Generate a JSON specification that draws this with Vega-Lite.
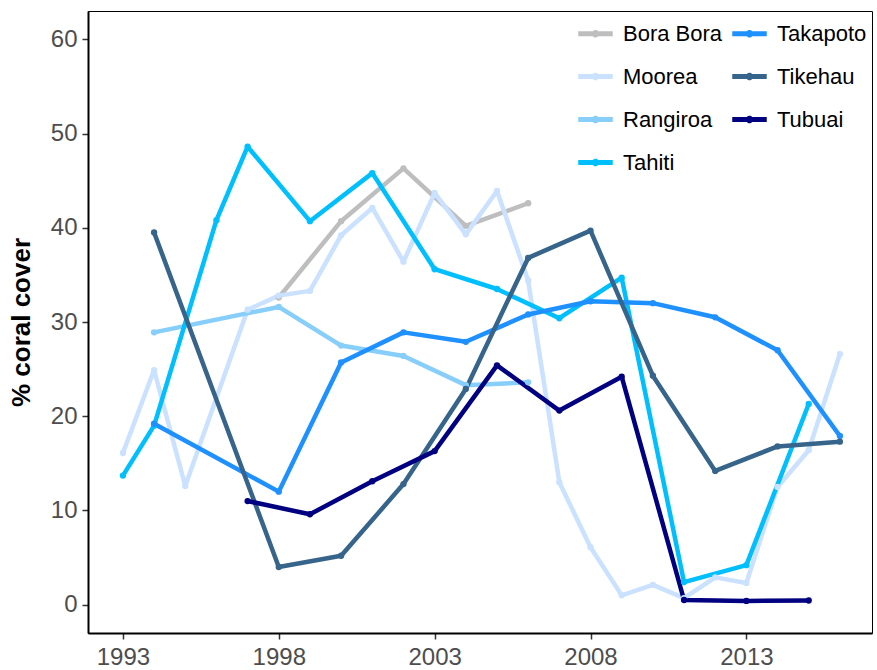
{
  "$schema": "https://vega.github.io/schema/vega-lite/v6.json",
  "width": 784,
  "height": 622,
  "autosize": {"type": "none"},
  "padding": {"left": 88, "top": 11, "right": 5, "bottom": 37},
  "background": "white",
  "config": {
    "font": "Liberation Sans",
    "view": {"stroke": "#000", "strokeWidth": 1},
    "axis": {
      "grid": false,
      "domainColor": "#000",
      "domainWidth": 2,
      "tickColor": "#333",
      "tickWidth": 1.5,
      "tickSize": 6,
      "labelColor": "#4D4D4D",
      "labelFontSize": 24,
      "labelPadding": 5,
      "titleFontSize": 26,
      "titleFontWeight": "bold",
      "titleColor": "#000"
    }
  },
  "data": {
    "values": [
      {"site": "Bora Bora", "year": 1998, "cover": 32.6},
      {"site": "Bora Bora", "year": 2000, "cover": 40.7},
      {"site": "Bora Bora", "year": 2002, "cover": 46.3},
      {"site": "Bora Bora", "year": 2004, "cover": 40.2},
      {"site": "Bora Bora", "year": 2006, "cover": 42.6},
      {"site": "Moorea", "year": 1993, "cover": 16.1},
      {"site": "Moorea", "year": 1994, "cover": 24.9},
      {"site": "Moorea", "year": 1995, "cover": 12.6},
      {"site": "Moorea", "year": 1997, "cover": 31.3},
      {"site": "Moorea", "year": 1998, "cover": 32.8},
      {"site": "Moorea", "year": 1999, "cover": 33.3},
      {"site": "Moorea", "year": 2000, "cover": 39.2},
      {"site": "Moorea", "year": 2001, "cover": 42.1},
      {"site": "Moorea", "year": 2002, "cover": 36.4},
      {"site": "Moorea", "year": 2003, "cover": 43.7},
      {"site": "Moorea", "year": 2004, "cover": 39.3},
      {"site": "Moorea", "year": 2005, "cover": 43.9},
      {"site": "Moorea", "year": 2006, "cover": 34.4},
      {"site": "Moorea", "year": 2007, "cover": 13.0},
      {"site": "Moorea", "year": 2008, "cover": 6.1},
      {"site": "Moorea", "year": 2009, "cover": 1.0},
      {"site": "Moorea", "year": 2010, "cover": 2.1},
      {"site": "Moorea", "year": 2011, "cover": 0.7},
      {"site": "Moorea", "year": 2012, "cover": 2.9},
      {"site": "Moorea", "year": 2013, "cover": 2.3},
      {"site": "Moorea", "year": 2014, "cover": 12.5},
      {"site": "Moorea", "year": 2015, "cover": 16.4},
      {"site": "Moorea", "year": 2016, "cover": 26.6},
      {"site": "Rangiroa", "year": 1994, "cover": 28.9},
      {"site": "Rangiroa", "year": 1998, "cover": 31.6},
      {"site": "Rangiroa", "year": 2000, "cover": 27.5},
      {"site": "Rangiroa", "year": 2002, "cover": 26.4},
      {"site": "Rangiroa", "year": 2004, "cover": 23.3},
      {"site": "Rangiroa", "year": 2006, "cover": 23.6},
      {"site": "Tahiti", "year": 1993, "cover": 13.7},
      {"site": "Tahiti", "year": 1994, "cover": 19.0},
      {"site": "Tahiti", "year": 1996, "cover": 40.8},
      {"site": "Tahiti", "year": 1997, "cover": 48.6},
      {"site": "Tahiti", "year": 1999, "cover": 40.7},
      {"site": "Tahiti", "year": 2001, "cover": 45.8},
      {"site": "Tahiti", "year": 2003, "cover": 35.6},
      {"site": "Tahiti", "year": 2005, "cover": 33.5},
      {"site": "Tahiti", "year": 2007, "cover": 30.4},
      {"site": "Tahiti", "year": 2009, "cover": 34.7},
      {"site": "Tahiti", "year": 2011, "cover": 2.4},
      {"site": "Tahiti", "year": 2013, "cover": 4.2},
      {"site": "Tahiti", "year": 2015, "cover": 21.3},
      {"site": "Takapoto", "year": 1994, "cover": 19.2},
      {"site": "Takapoto", "year": 1998, "cover": 12.0},
      {"site": "Takapoto", "year": 2000, "cover": 25.7},
      {"site": "Takapoto", "year": 2002, "cover": 28.9},
      {"site": "Takapoto", "year": 2004, "cover": 27.9},
      {"site": "Takapoto", "year": 2006, "cover": 30.8},
      {"site": "Takapoto", "year": 2008, "cover": 32.2},
      {"site": "Takapoto", "year": 2010, "cover": 32.0},
      {"site": "Takapoto", "year": 2012, "cover": 30.5},
      {"site": "Takapoto", "year": 2014, "cover": 27.0},
      {"site": "Takapoto", "year": 2016, "cover": 17.9},
      {"site": "Tikehau", "year": 1994, "cover": 39.5},
      {"site": "Tikehau", "year": 1998, "cover": 4.0},
      {"site": "Tikehau", "year": 2000, "cover": 5.2},
      {"site": "Tikehau", "year": 2002, "cover": 12.8},
      {"site": "Tikehau", "year": 2004, "cover": 22.9},
      {"site": "Tikehau", "year": 2006, "cover": 36.8},
      {"site": "Tikehau", "year": 2008, "cover": 39.7},
      {"site": "Tikehau", "year": 2010, "cover": 24.3},
      {"site": "Tikehau", "year": 2012, "cover": 14.2},
      {"site": "Tikehau", "year": 2014, "cover": 16.8},
      {"site": "Tikehau", "year": 2016, "cover": 17.3},
      {"site": "Tubuai", "year": 1997, "cover": 11.0},
      {"site": "Tubuai", "year": 1999, "cover": 9.6},
      {"site": "Tubuai", "year": 2001, "cover": 13.1},
      {"site": "Tubuai", "year": 2003, "cover": 16.3},
      {"site": "Tubuai", "year": 2005, "cover": 25.4},
      {"site": "Tubuai", "year": 2007, "cover": 20.6},
      {"site": "Tubuai", "year": 2009, "cover": 24.2},
      {"site": "Tubuai", "year": 2011, "cover": 0.5},
      {"site": "Tubuai", "year": 2013, "cover": 0.4},
      {"site": "Tubuai", "year": 2015, "cover": 0.45}
    ]
  },
  "encoding": {
    "x": {
      "field": "year",
      "type": "quantitative",
      "scale": {"domain": [1991.88, 2017.03], "nice": false, "zero": false},
      "axis": {"values": [1993, 1998, 2003, 2008, 2013], "format": "d", "title": null, "labelPadding": 6}
    },
    "y": {
      "field": "cover",
      "type": "quantitative",
      "scale": {"domain": [-3, 63], "nice": false, "zero": false},
      "axis": {"values": [0, 10, 20, 30, 40, 50, 60], "title": "% coral cover", "titlePadding": 16}
    },
    "color": {
      "field": "site",
      "type": "nominal",
      "scale": {
        "domain": ["Bora Bora", "Moorea", "Rangiroa", "Tahiti", "Takapoto", "Tikehau", "Tubuai"],
        "range": ["#BEBEBE", "#CAE1FF", "#87CEFA", "#00BFFF", "#1E90FF", "#36648B", "#000080"]
      },
      "legend": {
        "title": null,
        "orient": "none",
        "legendX": 490,
        "legendY": 5,
        "columns": 2,
        "symbolType": "M-1,-0.14H-0.157A0.21,0.21,0,0,1,0.157,-0.14H1V0.14H0.157A0.21,0.21,0,0,1,-0.157,0.14H-1Z",
        "symbolSize": 1190,
        "symbolStrokeWidth": 0,
        "symbolOpacity": 1,
        "labelFontSize": 22,
        "labelColor": "#000",
        "labelOffset": 10,
        "columnPadding": 9,
        "rowPadding": 14,
        "padding": 0
      }
    }
  },
  "layer": [
    {"mark": {"type": "line", "strokeWidth": 4.5, "strokeJoin": "round"}},
    {"mark": {"type": "circle", "size": 40, "opacity": 1}}
  ]
}
